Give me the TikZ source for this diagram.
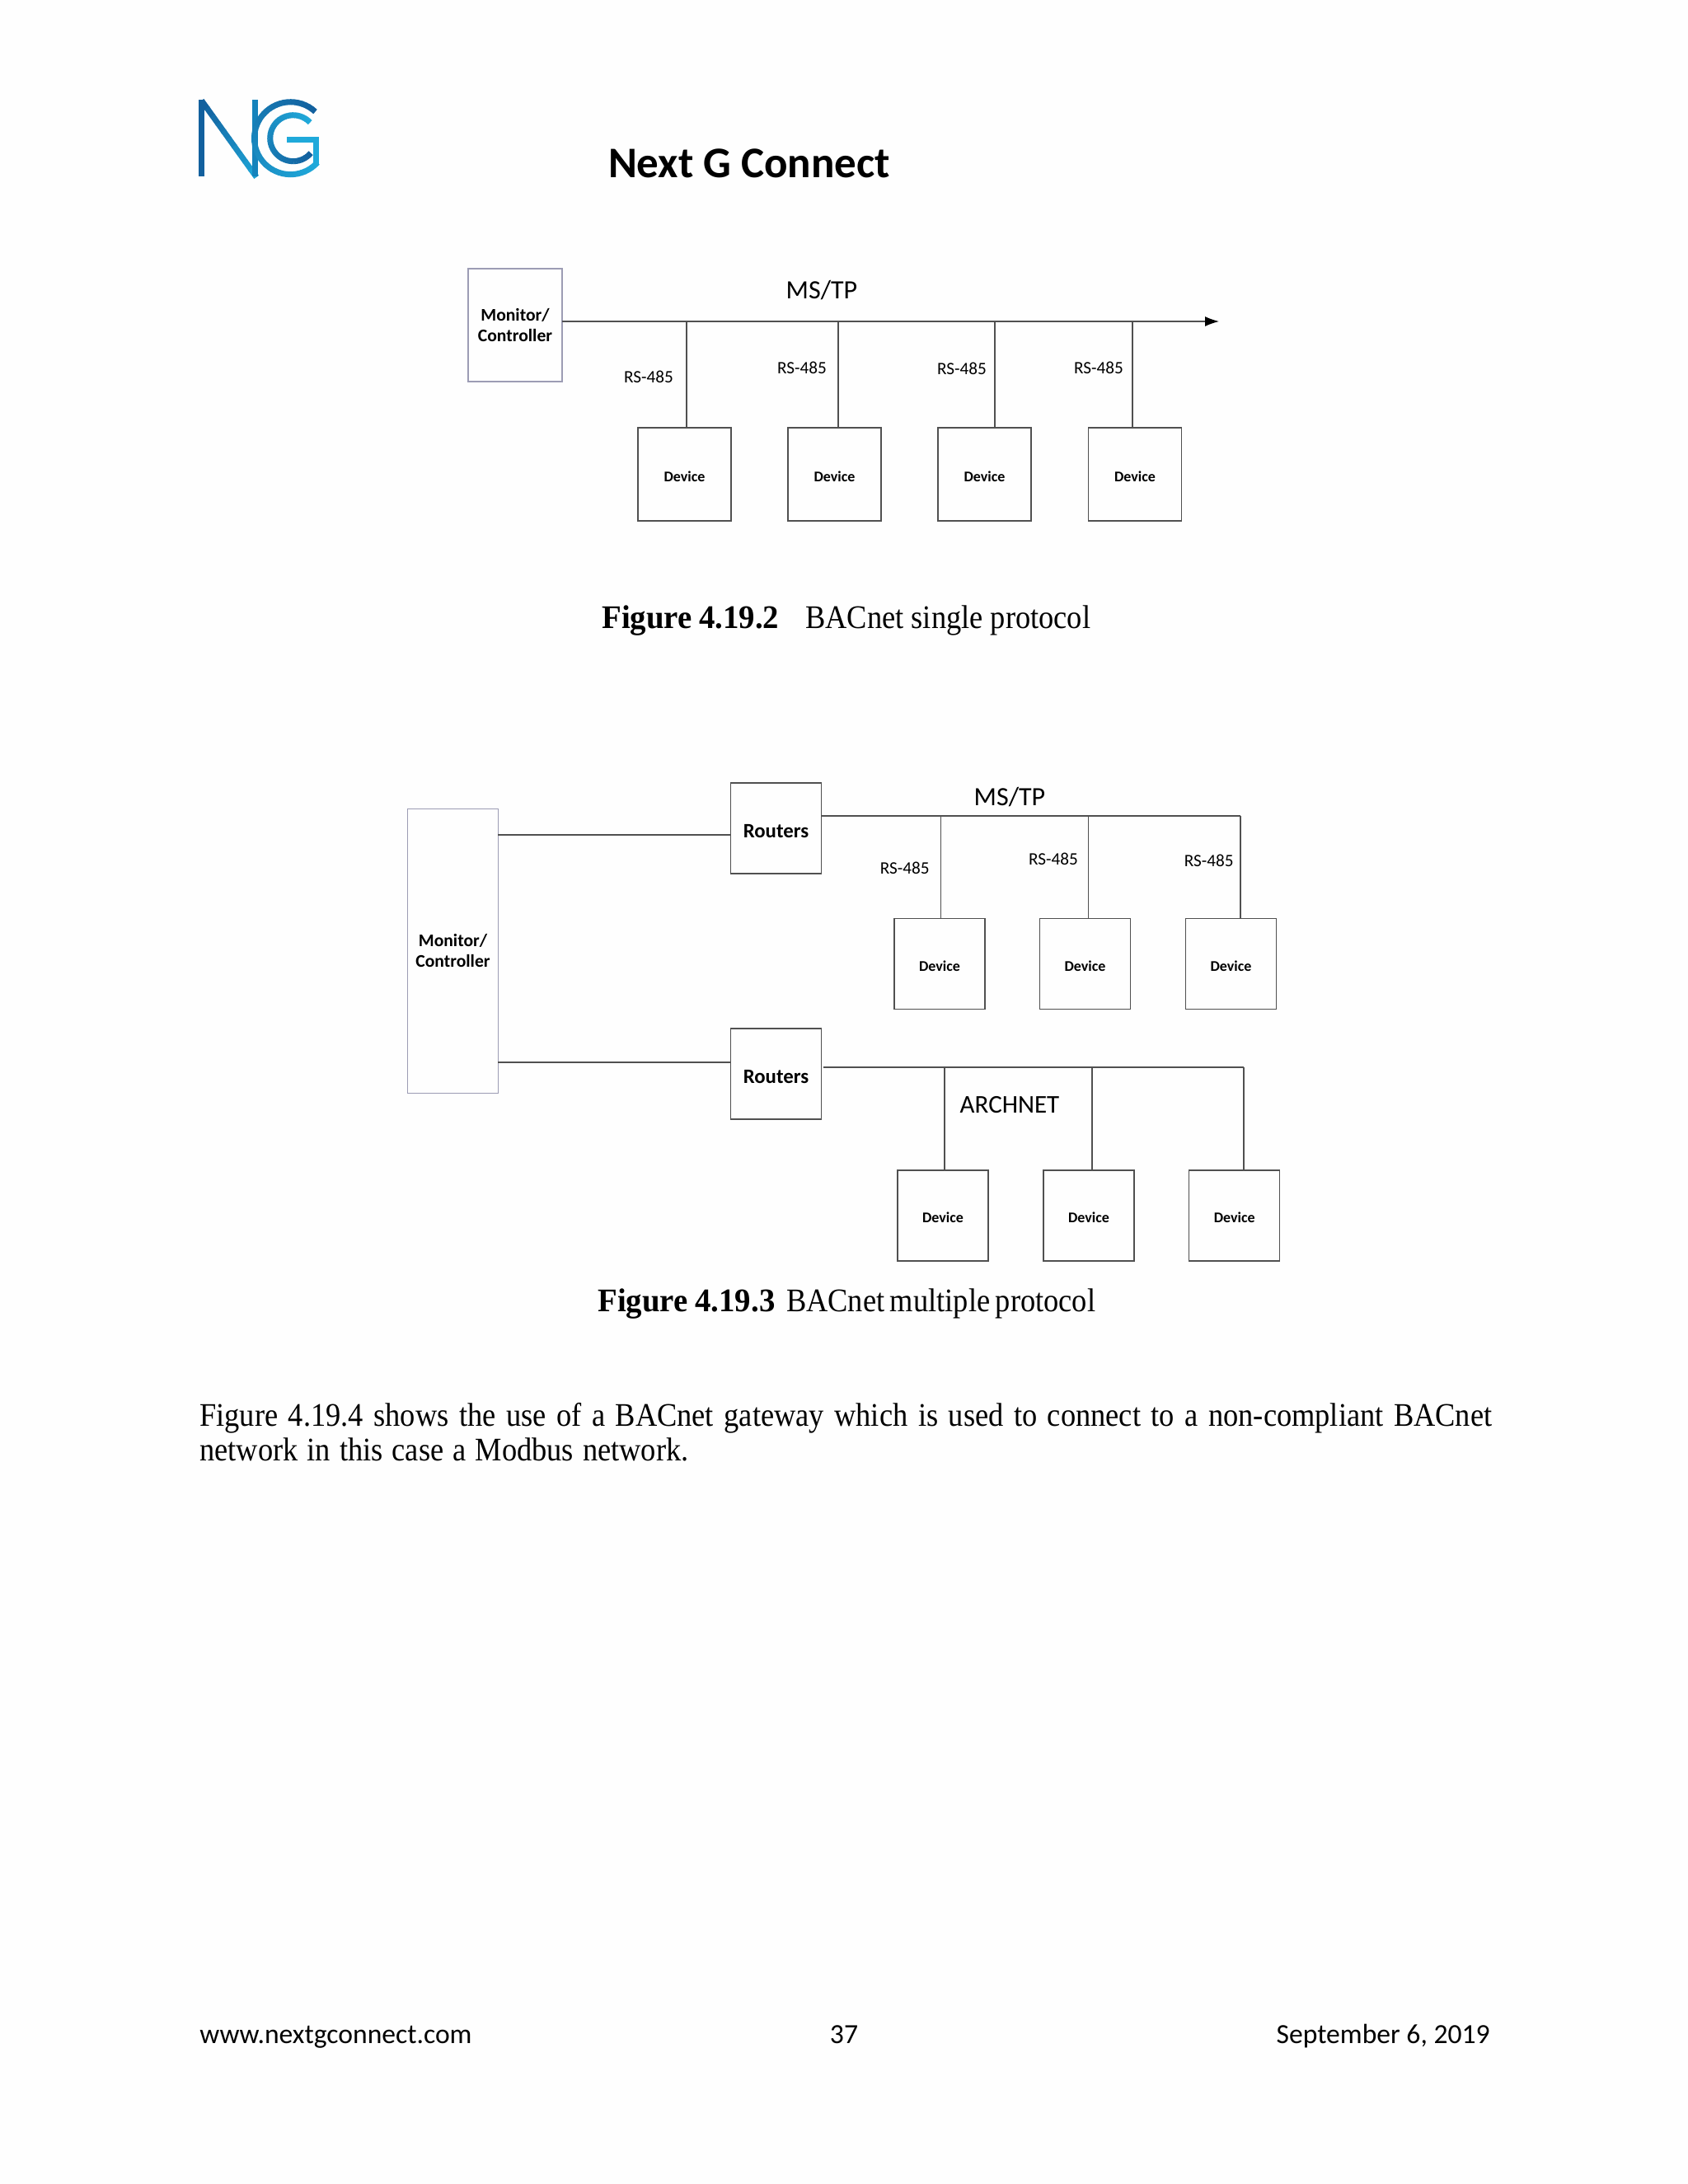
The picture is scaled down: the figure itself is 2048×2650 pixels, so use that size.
\documentclass[tikz,border=0pt]{standalone}
\usepackage{fontspec}
\setmainfont[FakeStretch=0.91]{Liberation Serif}
\newfontfamily\capbold[FakeStretch=0.97]{Liberation Serif}
\newfontfamily\carlito{Carlito}
\usetikzlibrary{arrows.meta}
\definecolor{linegray}{HTML}{505050}
\definecolor{monedge}{HTML}{9C9CB4}
\definecolor{ngdark}{HTML}{12609E}
\definecolor{ngmid}{HTML}{1583BC}
\definecolor{nglight}{HTML}{1FA9DA}
\newcommand{\sz}[2]{\fontsize{#1}{#2}\selectfont}
\tikzset{
  x=0.5pt,y=-0.5pt,
  wire/.style={draw=linegray,line width=0.6pt},
  boxbase/.style={draw=linegray,line width=0.6pt,rectangle,inner sep=0pt,outer sep=0pt,align=center,text=black,font=\carlito\bfseries},
  devA/.style={boxbase,minimum width=56.5pt,minimum height=56.5pt,text height=8.7pt,text depth=0pt,font=\carlito\bfseries\sz{9}{11}},
  devB/.style={boxbase,minimum width=55pt,minimum height=55pt,text height=8.7pt,text depth=0pt,font=\carlito\bfseries\sz{9}{11}},
  routerbox/.style={boxbase,minimum width=55pt,minimum height=55pt,text height=11.4pt,text depth=0pt,font=\carlito\bfseries\sz{12.4}{14}},
  monbox/.style={boxbase,draw=monedge,font=\carlito\bfseries\sz{10.8}{12.5}},
  rslabel/.style={inner sep=0pt,font=\carlito\sz{10.6}{12}},
  netlabel/.style={inner sep=0pt,font=\carlito\sz{16}{18}},
  captext/.style={inner sep=0pt,anchor=base west,font=\sz{20}{24}},
  foot/.style={inner sep=0pt,font=\carlito\sz{16.8}{20}},
  logo/.style={line width=3.5pt,line cap=butt},
}
\begin{document}
\begin{tikzpicture}
\useasboundingbox (0,0) rectangle (2048,2650);
\fill[white!99.5!black] (0,0) rectangle (2048,2650);

% ---- logo
\fill[ngdark] (241,121) rectangle (248,214);
\foreach \i in {0,...,9}{
  \pgfmathsetmacro\pc{\i*10}
  \pgfmathsetmacro\xa{244.5+\i*6.6}\pgfmathsetmacro\ya{122+\i*9.2}
  \pgfmathsetmacro\xb{244.5+(\i+1.1)*6.6}\pgfmathsetmacro\yb{122+(\i+1.1)*9.2}
  \draw[logo,color=nglight!\pc!ngdark] (\xa,\ya) -- (\xb,\yb);
}
\fill[ngmid] (306,121) rectangle (313,214);
\foreach \i in {0,...,44}{
  \pgfmathsetmacro\pc{\i*100/44}
  \pgfmathsetmacro\a{47+\i*6}\pgfmathsetmacro\b{47+\i*6+7}
  \draw[logo,color=nglight!\pc!ngdark] ({352.5+44*cos(\a)},{167.7-44*sin(\a)}) -- ({352.5+44*cos(\b)},{167.7-44*sin(\b)});
}
\foreach \i in {0,...,45}{
  \pgfmathsetmacro\pc{100-\i*100/45}
  \pgfmathsetmacro\a{43+\i*6}\pgfmathsetmacro\b{43+\i*6+7}
  \draw[logo,color=nglight!\pc!ngdark] ({355.7+28*cos(\a)},{167.7-28*sin(\a)}) -- ({355.7+28*cos(\b)},{167.7-28*sin(\b)});
}
\draw[logo,color=nglight,line join=miter] (348,169) -- (383.5,169) -- (383.5,199);

% ---- title
\node[inner sep=0pt,font=\carlito\bfseries\sz{26.5}{30}] (title) at (909,198) {Next G Connect};

% ---- figure 4.19.2
\node[monbox,minimum width=57pt,minimum height=68.5pt] (mon1) at (625,394.5) {Monitor/\\Controller};
\node[devA] (a1) at (830.5,575.5) {Device};
\node[devA] (a2) at (1012.5,575.5) {Device};
\node[devA] (a3) at (1194.5,575.5) {Device};
\node[devA] (a4) at (1377,575.5) {Device};
\coordinate (busA0) at (682,390);
\coordinate (busAend) at (1479,390);
\coordinate (ja1) at (833,390);
\coordinate (ja2) at (1017,390);
\coordinate (ja3) at (1207,390);
\coordinate (ja4) at (1374,390);
\draw[wire,-{Latex[length=8.5pt,width=6pt,black]}] (busA0) -- (busAend);
\draw[wire] (ja1) -- (ja1 |- a1.north);
\draw[wire] (ja2) -- (ja2 |- a2.north);
\draw[wire] (ja3) -- (ja3 |- a3.north);
\draw[wire] (ja4) -- (ja4 |- a4.north);
\node[netlabel] (msA) at (997,352.5) {MS/TP};
\node[rslabel] (ra1) at (787,457) {RS-485};
\node[rslabel] (ra2) at (973,446) {RS-485};
\node[rslabel] (ra3) at (1167,447) {RS-485};
\node[rslabel] (ra4) at (1333,446) {RS-485};
\node[captext] (capA) at (730,762) {\makebox[107.5pt][s]{\capbold\bfseries Figure 4.19.2}\hspace{16pt}BACnet single protocol};

% ---- figure 4.19.3
\node[monbox,minimum width=55pt,minimum height=172.5pt] (mon2) at (549.5,1153.7) {Monitor/\\Controller};
\node[routerbox] (r1) at (941.5,1005) {Routers};
\node[routerbox] (r2) at (941.5,1303) {Routers};
\node[devB] (b1) at (1140,1169.5) {Device};
\node[devB] (b2) at (1316.5,1169.5) {Device};
\node[devB] (b3) at (1493.5,1169.5) {Device};
\node[devB] (c1) at (1144,1475) {Device};
\node[devB] (c2) at (1321,1475) {Device};
\node[devB] (c3) at (1497.7,1475) {Device};
\coordinate (m1) at (604,1013);
\coordinate (m2) at (604,1289);
\draw[wire] (m1) -- (m1 -| r1.west);
\draw[wire] (m2) -- (m2 -| r2.west);
\coordinate (busB0) at (996,990);
\coordinate (jb1) at (1141.7,990);
\coordinate (jb2) at (1320.7,990);
\coordinate (jb3) at (1505,990);
\draw[wire] (busB0) -- (jb3);
\draw[wire] (jb1) -- (jb1 |- b1.north);
\draw[wire] (jb2) -- (jb2 |- b2.north);
\draw[wire] (jb3) -- (jb3 |- b3.north);
\coordinate (busC0) at (999,1295);
\coordinate (jc1) at (1146,1295);
\coordinate (jc2) at (1325,1295);
\coordinate (jc3) at (1509,1295);
\draw[wire] (busC0) -- (jc3);
\draw[wire] (jc1) -- (jc1 |- c1.north);
\draw[wire] (jc2) -- (jc2 |- c2.north);
\draw[wire] (jc3) -- (jc3 |- c3.north);
\node[netlabel] (msB) at (1225,967.5) {MS/TP};
\node[netlabel,font=\carlito\sz{15.5}{18}] (arc) at (1225,1341) {ARCHNET};
\node[rslabel] (rb1) at (1097.7,1053.7) {RS-485};
\node[rslabel] (rb2) at (1278,1042.6) {RS-485};
\node[rslabel] (rb3) at (1466.7,1044) {RS-485};
\node[captext] (capB) at (725,1591) {\makebox[107.5pt][s]{\capbold\bfseries Figure 4.19.3}\hspace{6.8pt}\makebox[187.6pt][s]{BACnet multiple protocol}};

% ---- paragraph
\node[captext] (p1) at (242,1730) {\makebox[784pt][s]{Figure 4.19.4 shows the use of a BACnet gateway which is used to connect to a non-compliant BACnet}};
\node[captext] (p2) at (242,1772) {\makebox[296.6pt][s]{network in this case a Modbus network.}};

% ---- footer
\node[foot,anchor=base west] (f1) at (242,2479) {www.nextgconnect.com};
\node[foot,anchor=base] (f2) at (1024,2479) {37};
\node[foot,anchor=base east] (f3) at (1808,2479) {September 6, 2019};
\end{tikzpicture}
\end{document}
